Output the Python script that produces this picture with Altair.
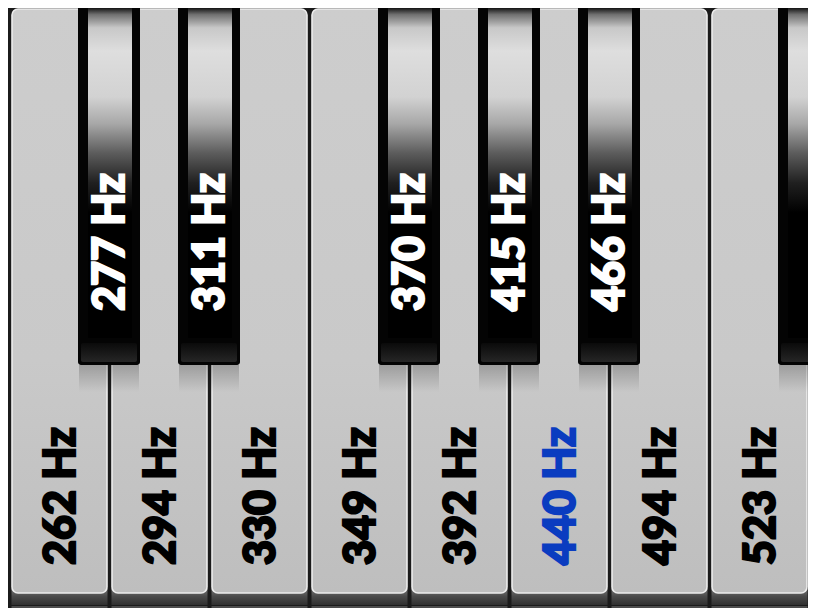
import altair as alt
import pandas as pd

# ---- data ----
white_freqs = [262, 294, 330, 349, 392, 440, 494, 523, 587]
highlight_freq = 440
black_freqs = [277, 311, 370, 415, 466, 554]
black_after_white = [1, 2, 4, 5, 6, 8]   # white-key index each black key sits before
black_labels = ["277 Hz", "311 Hz", "370 Hz", "415 Hz", "466 Hz", ""]
visible_white_keys = 8

white_df = pd.DataFrame({
    "i": list(range(len(white_freqs))),
    "freq": white_freqs,
    "label": [f"{f} Hz" for f in white_freqs],
})
black_df = pd.DataFrame({"b": black_after_white, "freq": black_freqs, "label": black_labels})

# ---- scales (x in key units, y in key-length units from top) ----
xs = alt.Scale(domain=[-0.04, 7.96], nice=False, zero=False)
ys = alt.Scale(domain=[8, 608], reverse=True, nice=False, zero=False)


def grad(stops):
    return alt.LinearGradient(
        gradient="linear", x1=0, x2=0, y1=0, y2=1,
        stops=[alt.GradientStop(offset=o, color=c) for o, c in stops],
    )


def rects(df, x0, x1, y0, y1, **mark):
    return (
        alt.Chart(df)
        .transform_calculate(xa=x0, xb=x1, ya=str(y0), yb=str(y1))
        .mark_rect(clip=True, **mark)
        .encode(
            x=alt.X("xa:Q", scale=xs, axis=None),
            x2="xb:Q",
            y=alt.Y("ya:Q", scale=ys, axis=None),
            y2="yb:Q",
        )
    )


# white keys
w_base = rects(white_df, "datum.i - 0.005", "datum.i + 0.955", 588, 605,
               fill=grad([(0, "#767676"), (0.5, "#4a4a4a"), (1, "#303030")]))
w_line = rects(white_df, "datum.i - 0.005", "datum.i + 0.955", 606, 608, fill="#4c4c4c")
w_keys = rects(white_df, "datum.i", "datum.i + 0.95", 9, 593,
               fill=grad([(0, "#cdcdcd"), (0.6, "#c9c9c9"), (1, "#bebebe")]),
               stroke="#ededed", strokeWidth=1.6, cornerRadius=6)

# shadow under black keys
b_shadow = rects(black_df, "datum.b - 0.33", "datum.b + 0.27", 365, 392,
                 fill=grad([(0, "rgba(0,0,0,0.22)"), (1, "rgba(0,0,0,0)")]))
# black keys
b_outer = rects(black_df, "datum.b - 0.34", "datum.b + 0.28", 6, 365,
                fill="#040404", cornerRadiusBottomLeft=3, cornerRadiusBottomRight=3)
b_inner = rects(black_df, "datum.b - 0.24", "datum.b + 0.20", 8, 338,
                fill=grad([
                    (0.0, "#151515"), (0.02, "#707070"), (0.06, "#c8c8c8"),
                    (0.13, "#dedede"), (0.27, "#d2d2d2"), (0.35, "#a8a8a8"),
                    (0.44, "#5c5c5c"), (0.53, "#202020"), (0.62, "#000000"),
                    (1.0, "#000000"),
                ]))
b_bevel = rects(black_df, "datum.b - 0.31", "datum.b + 0.25", 343, 362,
                fill=grad([(0, "#0a0a0a"), (1, "#262626")]), cornerRadius=2)

# labels
w_text = (
    alt.Chart(white_df)
    .transform_filter(f"datum.i < {visible_white_keys}")
    .transform_calculate(xc="datum.i + 0.50", yc="496")
    .mark_text(angle=270, align="center", baseline="middle", font="Lato",
               fontWeight=900, fontSize=43, strokeWidth=2.2, clip=True)
    .encode(
        x=alt.X("xc:Q", scale=xs, axis=None),
        y=alt.Y("yc:Q", scale=ys, axis=None),
        text="label:N",
        color=alt.condition(alt.datum.freq == highlight_freq,
                            alt.value("#0a3cc0"), alt.value("#000000")),
        stroke=alt.condition(alt.datum.freq == highlight_freq,
                             alt.value("#0a3cc0"), alt.value("#000000")),
    )
)
b_text = (
    alt.Chart(black_df)
    .transform_filter("datum.label != ''")
    .transform_calculate(xc="datum.b - 0.01", yc="242")
    .mark_text(angle=270, align="center", baseline="middle", font="Lato",
               fontWeight=900, fontSize=43, color="#ffffff", stroke="#ffffff",
               strokeWidth=2.2, clip=True)
    .encode(
        x=alt.X("xc:Q", scale=xs, axis=None),
        y=alt.Y("yc:Q", scale=ys, axis=None),
        text="label:N",
    )
)

chart = (
    alt.layer(w_base, w_line, w_keys, b_shadow, b_outer, b_inner, b_bevel, w_text, b_text)
    .properties(width=800, height=600, padding=0, autosize="none", background="#1b1b1b")
    .configure_view(stroke=None)
)

chart.save("out.html", embed_options={"renderer": "svg", "actions": False})
